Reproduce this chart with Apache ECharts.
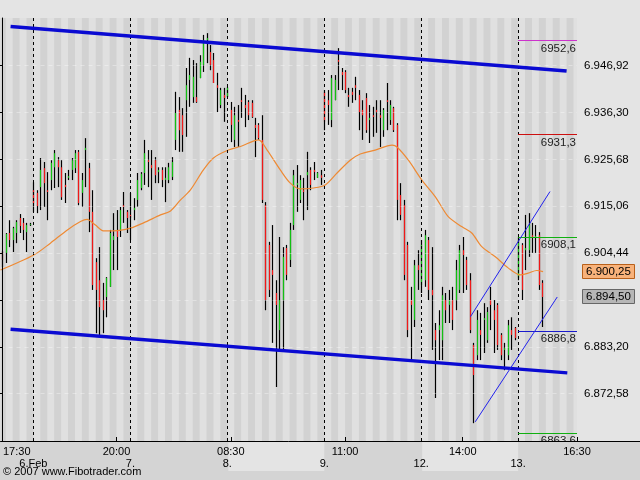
<!DOCTYPE html>
<html><head><meta charset="utf-8">
<script src="https://cdn.jsdelivr.net/npm/echarts@6/dist/echarts.min.js"></script>
<style>html,body{margin:0;padding:0;background:#e4e4e4}#c{width:640px;height:480px}</style>
</head><body><div id="c"></div>
<script>
// ---- data (30-minute bars, slot index = position in arrays) ----
const openPrices = [6904.7,6904.5,6909.0,6907.4,6909.0,6912.4,6911.3,6909.2,6910.8,
6918.7,6918.1,6919.4,6923.7,6918.7,6921.0,6923.9,6925.5,6923.9,6919.9,6921.5,6923.3,6923.7,6927.4,6918.1,6927.8,6923.7,6913.8,6902.4,6898.3,6893.8,6894.5,6896.8,6907.4,6909.7,6909.7,6915.3,6913.8,
6913.1,6914.2,6916.5,6919.2,6922.6,6925.5,6924.4,6925.5,6922.8,6923.3,6921.0,6921.0,6921.7,6930.1,6936.9,6935.7,6939.1,6943.7,6939.8,6939.8,6944.1,6947.1,6952.7,6950.0,6948.2,6942.5,6938.0,6940.3,
6939.8,6936.9,6930.1,6934.6,6939.1,6938.0,6938.7,6938.5,6933.5,6933.5,6930.1,6915.3,6906.3,6900.6,6895.4,6887.0,6893.8,6905.6,6902.9,6910.8,6919.9,6916.5,6918.7,6922.1,6923.3,6923.3,6921.5,6922.1,
6941.0,6939.1,6934.6,6939.1,6948.2,6945.5,6945.5,6940.3,6941.0,6942.5,6940.3,6936.9,6939.6,6934.6,6935.7,6936.9,6935.7,6932.3,6939.1,6934.6,6937.3,6933.5,6917.6,6915.3,6906.3,6893.8,6889.3,6901.7,
6897.2,6898.3,6907.4,6896.1,6887.0,6887.0,6884.7,6893.8,6892.7,6893.8,6893.8,6896.1,6905.1,6902.9,6898.3,6883.6,6881.3,6887.0,6889.3,6884.7,6893.8,6891.5,6892.7,6885.9,6882.5,6881.3,6887.0,6887.5,
6898.8,6906.3,6905.1,6905.1,6908.5,6907.9,6908.5,6897.7];
const highPrices = [6904.9,6909.0,6911.9,6910.4,6911.9,6913.3,6912.4,6911.3,6911.3,
6920.5,6918.7,6926.0,6925.1,6922.8,6925.5,6927.8,6926.2,6925.5,6922.6,6923.3,6926.0,6927.8,6927.8,6922.6,6930.5,6924.9,6918.7,6903.3,6905.8,6897.7,6899.0,6909.7,6913.5,6914.2,6914.9,6918.3,6914.2,
6918.1,6916.9,6922.6,6922.8,6930.1,6927.8,6927.8,6926.2,6923.9,6923.9,6923.9,6924.9,6926.2,6941.0,6939.8,6937.3,6946.4,6948.7,6948.2,6947.5,6949.3,6953.9,6954.3,6951.6,6949.8,6945.3,6941.9,6941.9,
6942.1,6938.7,6937.6,6938.0,6941.9,6940.3,6939.1,6939.1,6935.1,6933.9,6935.7,6916.0,6907.0,6910.8,6898.3,6908.1,6905.8,6906.3,6911.3,6923.3,6924.4,6922.1,6921.5,6927.4,6923.9,6925.1,6922.8,6923.3,
6941.4,6941.4,6944.8,6944.8,6950.9,6946.4,6945.9,6941.9,6941.9,6944.4,6941.4,6939.1,6940.7,6938.0,6937.6,6939.1,6939.1,6937.3,6943.0,6939.1,6937.6,6933.9,6920.3,6916.5,6907.0,6896.8,6902.9,6905.1,
6907.4,6909.7,6908.1,6905.8,6888.6,6891.5,6896.8,6895.4,6896.1,6896.8,6902.9,6906.3,6908.1,6903.6,6899.9,6884.1,6891.5,6890.9,6893.1,6892.2,6896.8,6893.8,6893.1,6886.3,6884.1,6889.3,6889.9,6887.7,
6908.1,6906.7,6913.1,6913.5,6911.3,6910.8,6909.2,6898.3];
const lowPrices = [6901.3,6902.2,6905.8,6904.7,6906.7,6909.0,6907.4,6904.7,6910.6,
6913.8,6913.5,6914.2,6914.9,6911.9,6918.7,6919.2,6919.4,6916.5,6915.8,6921.0,6921.0,6922.6,6915.3,6914.9,6919.4,6909.2,6896.1,6886.3,6885.9,6886.3,6889.9,6896.8,6900.6,6900.6,6908.1,6911.3,6909.0,
6907.4,6911.9,6914.9,6918.7,6919.9,6919.4,6916.5,6920.3,6920.3,6919.4,6916.0,6920.3,6921.0,6927.8,6927.4,6927.4,6930.8,6937.6,6938.5,6938.5,6944.1,6945.5,6947.5,6945.9,6943.0,6936.4,6937.3,6934.2,
6939.8,6929.6,6928.5,6928.5,6935.1,6933.0,6934.6,6935.1,6926.2,6930.1,6915.8,6891.5,6894.5,6884.1,6874.1,6882.5,6882.5,6898.3,6901.3,6909.7,6913.8,6915.8,6911.9,6914.2,6918.7,6921.0,6921.5,6919.9,
6932.3,6933.5,6933.0,6939.1,6941.4,6941.4,6940.7,6937.6,6938.5,6939.1,6932.3,6930.1,6931.7,6929.4,6930.8,6931.7,6928.5,6930.8,6932.3,6933.5,6931.9,6911.9,6911.9,6898.3,6885.4,6880.2,6887.7,6896.1,
6895.4,6896.8,6893.8,6882.5,6871.6,6880.2,6880.2,6888.6,6888.6,6887.0,6891.5,6895.4,6895.4,6896.1,6886.3,6865.9,6880.2,6880.2,6881.8,6884.1,6887.0,6881.8,6882.5,6880.2,6877.9,6880.2,6882.5,6884.7,
6898.3,6893.8,6900.6,6903.6,6904.5,6904.5,6896.1,6887.7];
const closePrices = [6902.9,6908.8,6907.4,6910.1,6911.5,6910.6,6909.7,6910.8,6911.0,
6915.8,6915.1,6923.3,6920.3,6918.3,6924.9,6927.1,6923.9,6917.1,6919.4,6921.9,6925.5,6927.1,6915.8,6921.0,6928.3,6913.8,6897.2,6896.1,6892.2,6891.5,6898.8,6909.0,6908.3,6908.1,6914.2,6914.9,6912.4,
6912.4,6914.7,6921.0,6922.4,6927.1,6925.1,6923.7,6922.1,6923.3,6921.0,6921.5,6923.9,6925.1,6936.2,6932.3,6931.2,6942.5,6944.8,6944.4,6938.7,6947.8,6952.7,6953.2,6947.1,6943.0,6941.9,6941.4,6939.6,
6941.9,6933.5,6935.7,6934.2,6938.7,6937.3,6935.7,6935.3,6932.8,6930.5,6916.5,6893.8,6896.1,6899.5,6892.7,6893.8,6903.6,6899.5,6909.7,6922.1,6920.3,6921.0,6918.3,6922.8,6919.9,6922.8,6922.6,6921.5,
6934.2,6938.0,6944.1,6943.7,6947.8,6944.8,6941.4,6939.8,6940.3,6941.9,6936.4,6935.7,6932.3,6935.1,6935.3,6936.4,6935.1,6936.9,6938.7,6938.0,6932.3,6916.5,6913.1,6899.5,6887.0,6892.7,6901.7,6900.6,
6906.3,6908.5,6896.1,6894.9,6884.7,6888.1,6894.9,6891.5,6893.8,6889.3,6900.6,6905.1,6904.0,6897.2,6887.0,6876.8,6889.3,6885.9,6889.7,6891.1,6892.7,6889.3,6883.6,6881.3,6882.9,6888.1,6885.9,6885.2,
6907.4,6896.1,6905.6,6910.8,6908.1,6908.3,6897.2,6894.5];

// moving average (slot, value)
const maSlots  = [-0.5,9.1,13.9,18.8,22.6,24.5,26.9,29.2,32.1,37.0,40.8,45.7,48.6,51.5,54.3,58.1,61.0,65.3,68.8,74.0,76.5,80.3,83.2,86.1,89.8,93.3,96.7,100.5,103.4,107.7,112.6,114.0,117.3,121.2,125.1,128.8,132.8,135.6,138.5,142.4,146.1,149.6,151.9,154.4,156.2];
const maValues = [6900.6,6904.0,6906.7,6909.7,6911.6,6912.1,6910.8,6909.5,6909.5,6910.1,6911.3,6913.1,6914.0,6916.5,6918.7,6923.3,6926.0,6927.8,6928.6,6930.1,6927.8,6923.3,6920.3,6919.0,6919.2,6919.9,6922.6,6925.5,6926.9,6927.8,6928.9,6928.5,6925.5,6921.0,6917.2,6912.7,6910.4,6909.0,6905.9,6903.6,6901.1,6899.5,6899.9,6900.5,6900.25];

// trend lines [slot, value]
const channelUpper = [[2.4,6955.8],[163.0,6945.7]];
const channelLower = [[2.4,6887.2],[163.2,6877.3]];
const riseUpper = [[135.2,6890.0],[158.2,6918.4]];
const riseLower = [[136.6,6866.2],[160.3,6894.5]];

// horizontal levels on the last day
const levelValues = [6952.6,6931.3,6908.1,6886.8,6863.6];
const levelLabels = ['6952,6','6931,3','6908,1','6886,8','6863,6'];
const levelColors = ['#cc33cc','#cc1010','#10b010','#1a1acc','#10b010'];
const levelStart = 149;

const lastPrice = 6894.50;
const lastMA = 6900.25;

// axes
const timeSlots = [0,33,66,99,133,166];
const timeLabels = ['17:30','20:00','08:30','11:00','14:00','16:30'];
const daySlots = [9,37,65,93,121,149];
const dayLabels = ['6.Feb','7.','8.','9.','12.','13.'];
const yTickValues = [6872.58,6883.20,6893.82,6904.44,6915.06,6925.68,6936.30,6946.92];
const yLabelValues = [6872.58,6883.20,6904.44,6915.06,6925.68,6936.30,6946.92];
const lightDays = [[65,93],[121,149]];

const X_MIN = -0.5, X_MAX = 166, Y_MIN = 6861.86, Y_MAX = 6957.73;
const FONT = 'Liberation Sans, Arial, sans-serif';

function fmtPrice(v){
  const s = Number(v).toFixed(2).split('.');
  return s[0].replace(/\B(?=(\d{3})+(?!\d))/g,'.') + ',' + s[1];
}

const ohlc = openPrices.map((o,i)=>[i,o,highPrices[i],lowPrices[i],closePrices[i]]);

const stripes = [];
for (let s = -1; s < X_MAX; s += 4) {
  stripes.push([{xAxis: Math.max(s, X_MIN)}, {xAxis: Math.min(s + 2, X_MAX)}]);
}

function renderBar(params, api){
  const i = api.value(0), o = api.value(1), h = api.value(2), l = api.value(3), c = api.value(4);
  const pH = api.coord([i,h]), pL = api.coord([i,l]), pO = api.coord([i,o]), pC = api.coord([i,c]);
  const x = Math.round(pH[0]) + 0.5;
  return {type:'group', children:[
    {type:'line', shape:{x1:x,y1:pH[1],x2:x,y2:pL[1]}, style:{stroke:'#000',lineWidth:1.2}},
    {type:'line', shape:{x1:x,y1:pO[1],x2:x,y2:pC[1]}, style:{stroke: c >= o ? '#12c012' : '#f01818', lineWidth:1.2}}
  ]};
}

const bgMarkLines = daySlots.map(d => ({xAxis:d, lineStyle:{type:[3,3], color:'#000', width:1}}))
  .concat(yTickValues.map(v => ({yAxis:v, lineStyle:{type:[4,4], color:'rgba(255,255,255,0.35)', width:1}})));

const levelLines = levelValues.map((v,k) => [
  {coord:[levelStart, v], lineStyle:{color:levelColors[k], width:1, type:'solid'},
   label:{show:true, position:'insideEndBottom', formatter: levelLabels[k], color:'#222', fontSize:11.5, fontFamily:FONT, distance:[1,2]}},
  {coord:[X_MAX, v]}
]);

const chart = echarts.init(document.getElementById('c'), null, {renderer:'canvas'});

function trend(data, color, width){
  return {type:'line', data:data, symbol:'none', silent:true, z:5, animation:false,
    lineStyle:{color:color, width:width}};
}

chart.setOption({
  animation:false,
  backgroundColor:'#e4e4e4',
  grid:{left:0, right:63, top:18, bottom:39, show:true, backgroundColor:'#e0e0e0', borderWidth:0},
  xAxis:[
    {type:'value', min:X_MIN, max:X_MAX, position:'bottom', z:200,
     axisLine:{show:true, onZero:false, lineStyle:{color:'#000', width:1}},
     axisTick:{show:true, inside:true, length:4, customValues:timeSlots, lineStyle:{color:'#000'}},
     axisLabel:{customValues:timeSlots, margin:5, color:'#000', fontSize:11, fontFamily:FONT,
       formatter: v => { const k = timeSlots.indexOf(v); const t = k >= 0 ? timeLabels[k] : ''; return k === 0 ? '{a|' + t + '}' : t; },
       rich:{a:{padding:[0,0,0,29], color:'#000', fontSize:11, fontFamily:FONT}}},
     splitLine:{show:false}},
    {type:'value', min:X_MIN, max:X_MAX, position:'bottom', z:200,
     axisLine:{show:false, onZero:false}, axisTick:{show:false},
     axisLabel:{customValues:daySlots, margin:17, color:'#000', fontSize:11, fontFamily:FONT,
       formatter: v => { const k = daySlots.indexOf(v); return k >= 0 ? dayLabels[k] : ''; }},
     splitLine:{show:false}}
  ],
  yAxis:{type:'value', position:'right', min:Y_MIN, max:Y_MAX, z:50,
    axisLine:{show:true, lineStyle:{color:'#000'}},
    axisTick:{show:true, inside:true, length:4, customValues:yTickValues, lineStyle:{color:'#000'}},
    axisLabel:{customValues:yLabelValues, formatter:fmtPrice, color:'#000', fontSize:11.5, fontFamily:FONT, margin:7},
    splitLine:{show:false}},
  series:[
    {type:'line', data:[], z:1, silent:true,
     markArea:{silent:true, itemStyle:{color:'#d2d2d2'}, data:stripes},
     markLine:{silent:true, symbol:'none', label:{show:false}, data:bgMarkLines}},
    {type:'custom', data:ohlc, renderItem:renderBar, z:3, silent:true,
     encode:{x:0, y:[1,2,3,4]}},
    {type:'line', data:maSlots.map((s,i)=>[s,maValues[i]]), symbol:'none', smooth:0.3, z:4, silent:true,
     lineStyle:{color:'#ee8a34', width:1.2}},
    trend(channelUpper, '#0a0ad2', 3.5),
    trend(channelLower, '#0a0ad2', 3.5),
    trend(riseUpper, '#2222ee', 1),
    trend(riseLower, '#2222ee', 1),
    {type:'line', data:[], z:6, silent:true,
     markLine:{silent:true, symbol:'none', data:levelLines}}
  ]
});

// value boxes on the price scale, placed through the axis scale
const gx = s => chart.convertToPixel({xAxisIndex:0}, s);
const gy = v => chart.convertToPixel({yAxisIndex:0}, v);
const axisY = gy(Y_MIN);
const axisX = gx(X_MAX);

function valueBox(value, bg, border){
  const cy = Math.round(gy(value));
  return [
    {type:'rect', z:220, shape:{x:axisX + 5.5, y:cy - 7.5, width:52, height:14}, style:{fill:bg, stroke:border, lineWidth:1}},
    {type:'text', z:221, x:axisX + 31.5, y:cy, style:{text:fmtPrice(value), fill:'#000', font:'11.5px ' + FONT, align:'center', verticalAlign:'middle'}}
  ];
}

const graphics = [
  {type:'rect', z:100, shape:{x:0, y:axisY + 0.5, width:640, height:480 - axisY}, style:{fill:'#d4d4d4'}},
  {type:'line', z:210, shape:{x1:axisX, y1:axisY + 0.5, x2:640, y2:axisY + 0.5}, style:{stroke:'#000', lineWidth:1}},
  {type:'text', z:210, left:3, top:466, style:{text:'© 2007 www.Fibotrader.com', fill:'#000', font:'11px ' + FONT}}
].concat(valueBox(lastMA, '#f8b27a', '#b8601a'), valueBox(lastPrice, '#b6b6b6', '#666666'));
lightDays.forEach(([a,b]) => {
  graphics.push({type:'rect', z:101, shape:{x:gx(a) + 1, y:axisY + 1, width:gx(b) - gx(a) - 1, height:29}, style:{fill:'#e4e4e4'}});
});
chart.setOption({graphic:graphics});
</script>
</body></html>
